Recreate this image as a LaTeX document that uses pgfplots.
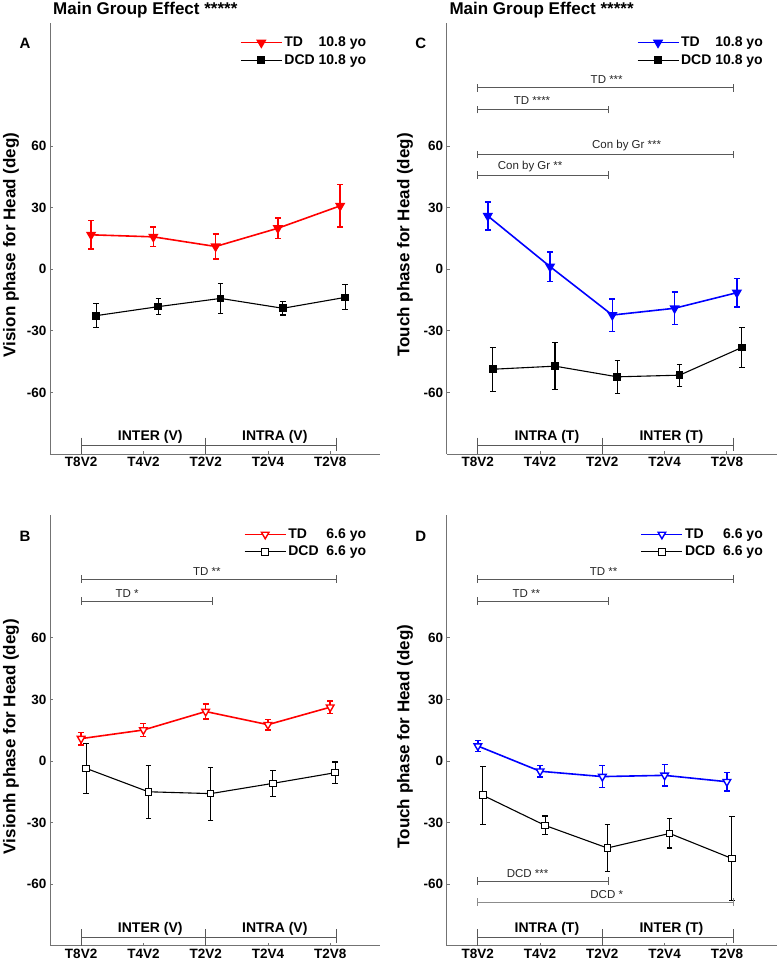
\documentclass[border=0pt]{standalone}
\usepackage{fontspec}
\setmainfont{Liberation Sans}
\usepackage{pgfplots}
\pgfplotsset{compat=1.18}

\definecolor{axgray}{gray}{0.45}
\definecolor{brgray}{gray}{0.35}
\definecolor{ltgray}{gray}{0.55}

\newcommand{\sig}[7][brgray]{%
  \draw[#1, line width=0.7pt] (axis cs:#2,#4) -- (axis cs:#3,#4);
  \draw[#1, line width=0.7pt] (axis cs:#2,#4) +(axis direction cs:0,-1.8) -- +(axis direction cs:0,1.8);
  \draw[#1, line width=0.7pt] (axis cs:#3,#4) +(axis direction cs:0,-1.8) -- +(axis direction cs:0,1.8);
  \node[font=\fontsize{11.5}{13}\selectfont, text=black!85, inner sep=0pt] at (axis cs:#6,#7) {#5};}

\newcommand{\grp}[2]{%
  \draw[brgray, line width=0.7pt] (axis cs:1,-85.8) -- (axis cs:5.1,-85.8);
  \draw[brgray, line width=0.7pt] (axis cs:1,-82) -- (axis cs:1,-90);
  \draw[brgray, line width=0.7pt] (axis cs:3,-82) -- (axis cs:3,-90);
  \draw[brgray, line width=0.7pt] (axis cs:5.1,-82) -- (axis cs:5.1,-88.5);
  \node[font=\fontsize{14}{17}\selectfont\bfseries, inner sep=0pt] at (axis cs:2.11,-81.7) {#1};
  \node[font=\fontsize{14}{17}\selectfont\bfseries, inner sep=0pt] at (axis cs:4.11,-81.7) {#2};}

\pgfplotsset{
  panel/.style={
    width=330pt, height=431pt, scale only axis, anchor=south west,
    xmin=0.5, xmax=5.8, ymin=-90, ymax=120,
    axis x line*=bottom, axis y line*=left,
    axis line style={axgray, line width=0.8pt},
    xtick={1,2,3,4,5}, xticklabels={T8V2,T4V2,T2V2,T2V4,T2V8},
    ytick={-60,-30,0,30,60}, yticklabels={-60,-30,0,30,60},
    tick align=inside, major tick length=3pt,
    tick style={axgray, line width=0.8pt},
    ticklabel style={font=\fontsize{13.5}{16}\selectfont\bfseries},
    every axis y label/.style={at={(axis description cs:-0.118,0.485)}, rotate=90, anchor=center, font=\fontsize{17}{20}\selectfont\bfseries},
    clip=false,
    legend style={draw=none, fill=none, anchor=north east, at={(0.964,0.972)},
      font=\fontsize{14}{17}\selectfont\bfseries, inner sep=0pt, row sep=2.5pt,
      column sep=0pt, nodes={inner sep=1.8pt}},
    legend cell align=left,
    legend image code/.code={\draw[mark repeat=2,mark phase=2,##1] plot coordinates {(0pt,0pt) (20.5pt,0pt) (41pt,0pt)};},
  },
  tdfill/.style={#1, line width=1.6pt, mark=triangle*, mark size=4.4pt, mark options={rotate=180, solid, fill=#1, draw=#1},
    error bars/.cd, y dir=both, y explicit, error bar style={line width=1.5pt, #1}, error mark options={rotate=90, mark size=3pt, line width=1.5pt, #1}},
  tdopen/.style={#1, line width=1.6pt, mark=triangle*, mark size=4.4pt, mark options={rotate=180, solid, fill=white, draw=#1, line width=1.4pt},
    error bars/.cd, y dir=both, y explicit, error bar style={line width=1.5pt, #1}, error mark options={rotate=90, mark size=3pt, line width=1.5pt, #1}},
  dcdfill/.style={black, line width=1.1pt, mark=square*, mark size=3.3pt, mark options={solid, fill=black},
    error bars/.cd, y dir=both, y explicit, error bar style={line width=1.1pt, black}, error mark options={rotate=90, mark size=2.8pt, line width=1.1pt, black}},
  dcdopen/.style={black, line width=1.1pt, mark=square*, mark size=3.3pt, mark options={solid, fill=white, draw=black, line width=1pt},
    error bars/.cd, y dir=both, y explicit, error bar style={line width=1.1pt, black}, error mark options={rotate=90, mark size=2.8pt, line width=1.1pt, black}},
}

\begin{document}
\begin{tikzpicture}
\useasboundingbox (0,0) rectangle (780pt,967pt);

% Titles and panel letters
\node[anchor=west, font=\fontsize{17}{20}\selectfont\bfseries, inner sep=0pt] at (53pt,957pt) {Main Group Effect *****};
\node[anchor=west, font=\fontsize{17}{20}\selectfont\bfseries, inner sep=0pt] at (449.3pt,957pt) {Main Group Effect *****};
\node[font=\fontsize{15}{18}\selectfont\bfseries] at (25pt,924pt) {A};
\node[font=\fontsize{15}{18}\selectfont\bfseries] at (420.7pt,924pt) {C};
\node[font=\fontsize{15}{18}\selectfont\bfseries] at (25pt,430.3pt) {B};
\node[font=\fontsize{15}{18}\selectfont\bfseries] at (420.7pt,430.3pt) {D};

% ---------------- Panel A ----------------
\begin{axis}[panel, at={(50pt,513pt)}, ylabel={Vision phase for Head (deg)}]
\addplot[tdfill=red] table[x=x, y=y, y error=e] {
x y e
1.16 16.8 6.9
2.16 15.8 4.7
3.16 11.1 6.2
4.16 20.0 4.9
5.16 30.9 10.3
};
\addlegendentry{\rlap{TD}\hphantom{DCD} 10.8 yo}
\addplot[dcdfill] table[x=x, y=y, y error=e] {
x y e
1.24 -22.6 5.8
2.24 -18.2 4.0
3.24 -14.2 7.2
4.24 -19.0 3.3
5.24 -13.7 6.1
};
\addlegendentry{DCD 10.8 yo}
\grp{INTER (V)}{INTRA (V)}
\end{axis}

% ---------------- Panel C ----------------
\begin{axis}[panel, at={(446.7pt,513pt)}, ylabel={Touch phase for Head (deg)},
  every axis y label/.append style={at={(axis description cs:-0.126,0.485)}}]
\addplot[tdfill=blue] table[x=x, y=y, y error=e] {
x y e
1.16 26.0 6.9
2.16 1.3 7.2
3.16 -22.3 7.9
4.16 -19.0 8.0
5.16 -11.4 6.9
};
\addlegendentry{\rlap{TD}\hphantom{DCD} 10.8 yo}
\addplot[dcdfill] table[x=x, y=y, y error=e] {
x y e
1.24 -48.7 10.7
2.24 -47.2 11.5
3.24 -52.4 8.1
4.24 -51.6 5.3
5.24 -38.1 9.7
};
\addlegendentry{DCD 10.8 yo}
\sig{1}{5.1}{88.4}{TD ***}{3.07}{92.4}
\sig{1}{3.1}{77.8}{TD ****}{1.87}{82.0}
\sig{1}{5.1}{56.0}{Con by Gr ***}{3.39}{60.2}
\sig{1}{3.1}{46.0}{Con by Gr **}{1.84}{50.0}
\grp{INTRA (T)}{INTER (T)}
\end{axis}

% ---------------- Panel B ----------------
\begin{axis}[panel, at={(50pt,21.3pt)}, ylabel={Visionh phase for Head (deg)}]
\addplot[tdopen=red] table[x=x, y=y, y error=e] {
x y e
1 10.9 3.0
2 15.1 3.2
3 24.1 3.6
4 17.7 2.5
5 26.2 3.1
};
\addlegendentry{\rlap{TD}\hphantom{DCD}\ \ 6.6 yo}
\addplot[dcdopen] table[x=x, y=y, y error=e] {
x y e
1.08 -3.6 12.2
2.08 -15.0 12.9
3.08 -15.9 12.9
4.08 -10.9 6.2
5.08 -5.7 5.2
};
\addlegendentry{DCD\ \ 6.6 yo}
\sig{1}{5.1}{88.6}{TD **}{3.02}{92.4}
\sig{1}{3.1}{78.0}{TD *}{1.74}{81.8}
\grp{INTER (V)}{INTRA (V)}
\end{axis}

% ---------------- Panel D ----------------
\begin{axis}[panel, at={(446.7pt,21.3pt)}, ylabel={Touch phase for Head (deg)},
  every axis y label/.append style={at={(axis description cs:-0.126,0.485)}}]
\addplot[tdopen=blue] table[x=x, y=y, y error=e] {
x y e
1 7.3 2.8
2 -5.0 2.8
3 -7.6 5.4
4 -7.0 5.3
5 -10.1 4.5
};
\addlegendentry{\rlap{TD}\hphantom{DCD}\ \ 6.6 yo}
\addplot[dcdopen] table[x=x, y=y, y error=e] {
x y e
1.08 -16.7 14.2
2.08 -31.4 4.6
3.08 -42.4 11.3
4.08 -35.3 7.1
5.08 -47.5 20.3
};
\addlegendentry{DCD\ \ 6.6 yo}
\sig{1}{5.1}{88.6}{TD **}{3.02}{92.4}
\sig{1}{3.1}{78.0}{TD **}{1.78}{81.8}
\sig{1}{3.1}{-58.5}{DCD ***}{1.80}{-54.8}
\sig[ltgray]{1}{5.1}{-68.8}{DCD *}{3.07}{-65.3}
\grp{INTRA (T)}{INTER (T)}
\end{axis}
\end{tikzpicture}
\end{document}
